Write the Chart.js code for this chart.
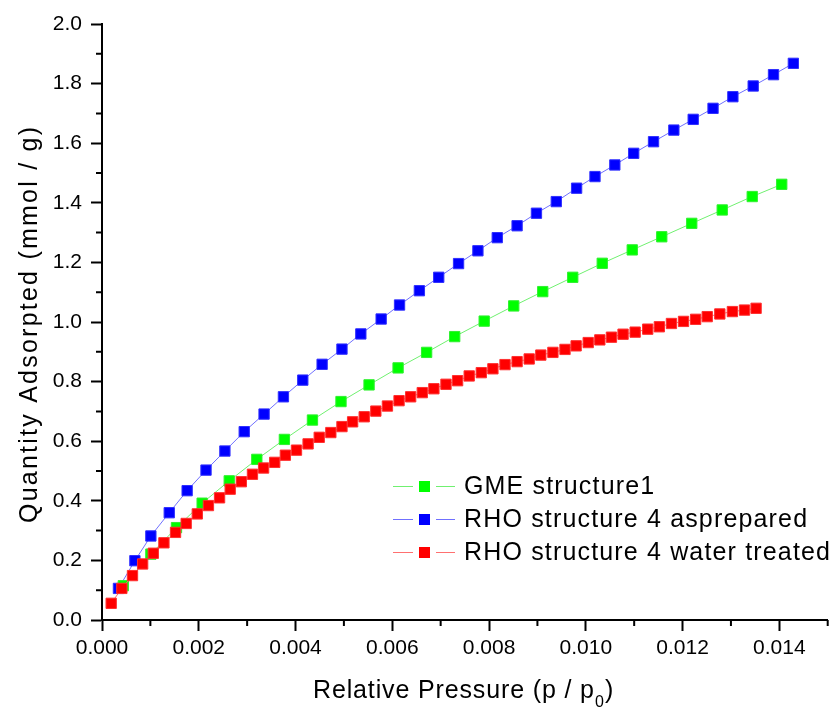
<!DOCTYPE html>
<html lang="en">
<head>
<meta charset="utf-8"/>
<title>Quantity Adsorpted vs Relative Pressure</title>
<script src="https://cdn.jsdelivr.net/npm/chart.js"></script>
<style>
  body { margin: 0; padding: 0; background: #fff; }
  canvas { display: block; }
</style>
</head>
<body>
<canvas id="isoChart" width="836" height="709"></canvas>
<script>
  // values
  const gmeX = [0.00044, 0.00101, 0.00154, 0.00207, 0.00263, 0.00320, 0.00377, 0.00435, 0.00494, 0.00552,
    0.00612, 0.00671, 0.00729, 0.00790, 0.00851, 0.00911, 0.00973, 0.01034, 0.01096, 0.01157,
    0.01219, 0.01282, 0.01344, 0.01405];
  const gmeY = [0.115, 0.221, 0.310, 0.392, 0.467, 0.539, 0.606, 0.671, 0.733, 0.789,
    0.846, 0.898, 0.951, 1.003, 1.054, 1.102, 1.150, 1.197, 1.242, 1.286,
    1.331, 1.376, 1.421, 1.462];

  const rhoPrepX = [0.00034, 0.00068, 0.00101, 0.00139, 0.00176, 0.00215, 0.00254, 0.00294, 0.00335, 0.00375,
    0.00415, 0.00455, 0.00496, 0.00535, 0.00577, 0.00615, 0.00656, 0.00696, 0.00737, 0.00777,
    0.00817, 0.00858, 0.00898, 0.00939, 0.00981, 0.01019, 0.01060, 0.01099, 0.01140, 0.01182,
    0.01222, 0.01263, 0.01304, 0.01346, 0.01388, 0.01429];
  const rhoPrepY = [0.106, 0.199, 0.282, 0.360, 0.434, 0.503, 0.567, 0.632, 0.691, 0.749,
    0.805, 0.858, 0.909, 0.960, 1.010, 1.057, 1.105, 1.150, 1.196, 1.239,
    1.283, 1.323, 1.365, 1.404, 1.449, 1.488, 1.527, 1.566, 1.605, 1.644,
    1.680, 1.717, 1.756, 1.792, 1.830, 1.868];

  const rhoWaterX = [0.00019, 0.00041, 0.00063, 0.00084, 0.00106, 0.00128, 0.00152, 0.00174, 0.00197, 0.00220,
    0.00243, 0.00265, 0.00288, 0.00311, 0.00334, 0.00357, 0.00379, 0.00402, 0.00426, 0.00449,
    0.00473, 0.00496, 0.00518, 0.00542, 0.00566, 0.00590, 0.00614, 0.00638, 0.00662, 0.00686,
    0.00711, 0.00735, 0.00759, 0.00784, 0.00808, 0.00833, 0.00858, 0.00883, 0.00907, 0.00932,
    0.00957, 0.00980, 0.01005, 0.01029, 0.01053, 0.01077, 0.01102, 0.01128, 0.01152, 0.01177,
    0.01202, 0.01227, 0.01251, 0.01277, 0.01303, 0.01328, 0.01352];
  const rhoWaterY = [0.056, 0.106, 0.149, 0.188, 0.224, 0.259, 0.294, 0.324, 0.356, 0.384,
    0.410, 0.439, 0.464, 0.489, 0.510, 0.529, 0.553, 0.570, 0.591, 0.613,
    0.629, 0.649, 0.665, 0.682, 0.701, 0.718, 0.736, 0.749, 0.763, 0.776,
    0.791, 0.803, 0.819, 0.830, 0.843, 0.857, 0.867, 0.876, 0.889, 0.898,
    0.908, 0.920, 0.931, 0.940, 0.949, 0.959, 0.966, 0.976, 0.984, 0.995,
    1.002, 1.009, 1.018, 1.027, 1.035, 1.040, 1.046];

  const xTicks = [0.000, 0.002, 0.004, 0.006, 0.008, 0.010, 0.012, 0.014];
  const xMinor = [0.001, 0.003, 0.005, 0.007, 0.009, 0.011, 0.013, 0.015];
  const yTicks = [0.0, 0.2, 0.4, 0.6, 0.8, 1.0, 1.2, 1.4, 1.6, 1.8, 2.0];
  const yMinor = [0.1, 0.3, 0.5, 0.7, 0.9, 1.1, 1.3, 1.5, 1.7, 1.9];

  const seriesNames = ['GME structure1', 'RHO structure 4 asprepared', 'RHO structure 4 water treated'];
  const xTitle = 'Relative Pressure (p / p';
  const yTitle = 'Quantity Adsorpted (mmol / g)';

  const FONT = "'Liberation Sans', Arial, sans-serif";

  function pts(xs, ys) {
    return xs.map((x, i) => ({ x: x, y: ys[i] }));
  }

  // the original text is set a bit loose, so draw it letter by letter
  function spacing(ctx, text, target) {
    return (target - ctx.measureText(text).width) / (text.length - 1);
  }
  function looseText(ctx, text, x, y, gap) {
    for (const ch of text) {
      ctx.fillText(ch, x, y);
      x += ctx.measureText(ch).width + gap;
    }
    return x;
  }

  // minor ticks, axis titles, legend
  const extras = {
    id: 'extras',
    afterDraw(chart) {
      const ctx = chart.ctx;
      const xs = chart.scales.x, ys = chart.scales.y;
      const area = chart.chartArea;
      ctx.save();
      ctx.strokeStyle = '#000';
      ctx.lineWidth = 2;
      ctx.beginPath();
      xMinor.forEach(v => {
        const px = xs.getPixelForValue(v);
        ctx.moveTo(px, area.bottom);
        ctx.lineTo(px, area.bottom + 6);
      });
      yMinor.forEach(v => {
        const py = ys.getPixelForValue(v);
        ctx.moveTo(area.left, py);
        ctx.lineTo(area.left - 6, py);
      });
      ctx.stroke();

      ctx.fillStyle = '#000';
      ctx.textAlign = 'left';

      // x axis title, p with subscript 0
      ctx.textBaseline = 'alphabetic';
      ctx.font = '25px ' + FONT;
      const gx = spacing(ctx, xTitle, 281);
      let tx = 313;
      tx = looseText(ctx, xTitle, tx, 698, gx);
      ctx.font = '16px ' + FONT;
      ctx.fillText('0', tx - gx + 1, 707);
      tx += ctx.measureText('0').width - gx + 2;
      ctx.font = '25px ' + FONT;
      ctx.fillText(')', tx, 698);

      // y axis title
      ctx.save();
      ctx.translate(37, 523);
      ctx.rotate(-Math.PI / 2);
      ctx.font = '25px ' + FONT;
      const gy = spacing(ctx, yTitle, 396);
      looseText(ctx, yTitle, 0, 0, gy);
      ctx.restore();

      // legend
      const rows = [486, 519, 552];
      ctx.font = '25px ' + FONT;
      const gl = spacing(ctx, seriesNames[2], 366);
      chart.data.datasets.forEach(ds => {
        const ry = rows[ds.legendRow];
        ctx.strokeStyle = ds.borderColor;
        ctx.lineWidth = 1;
        ctx.beginPath();
        ctx.moveTo(393, ry + 0.5);
        ctx.lineTo(413, ry + 0.5);
        ctx.moveTo(436, ry + 0.5);
        ctx.lineTo(455, ry + 0.5);
        ctx.stroke();
        ctx.fillStyle = ds.pointBackgroundColor;
        ctx.fillRect(419, ry - 5, 11, 11);
        ctx.fillStyle = '#000';
        ctx.textBaseline = 'middle';
        looseText(ctx, ds.label, 464, ry + 1, gl);
      });
      ctx.restore();
    }
  };

  const ctx = document.getElementById('isoChart').getContext('2d');
  new Chart(ctx, {
    type: 'scatter',
    data: {
      datasets: [
        {
          label: seriesNames[2],
          legendRow: 2,
          data: pts(rhoWaterX, rhoWaterY),
          borderColor: '#ff7070',
          pointBackgroundColor: '#ff0000',
          pointBorderColor: '#ff3030',
          order: 0
        },
        {
          label: seriesNames[0],
          legendRow: 0,
          data: pts(gmeX, gmeY),
          borderColor: '#70f070',
          pointBackgroundColor: '#00ff00',
          pointBorderColor: '#30f030',
          order: 1
        },
        {
          label: seriesNames[1],
          legendRow: 1,
          data: pts(rhoPrepX, rhoPrepY),
          borderColor: '#7070ff',
          pointBackgroundColor: '#0000ff',
          pointBorderColor: '#3030ff',
          order: 2
        }
      ].map(d => Object.assign({
        showLine: true,
        borderWidth: 1,
        pointStyle: 'rect',
        pointRadius: 7.3,
        pointBorderWidth: 1,
        clip: false
      }, d))
    },
    options: {
      responsive: false,
      animation: false,
      layout: { padding: { left: 0, right: 3, top: 24, bottom: 0 } },
      plugins: {
        legend: { display: false },
        tooltip: { enabled: false }
      },
      scales: {
        x: {
          type: 'linear',
          min: 0,
          max: 0.015,
          afterBuildTicks: s => { s.ticks = xTicks.map(v => ({ value: v })); },
          afterFit: s => { s.height = 89; },
          grid: { drawOnChartArea: false, drawTicks: true, tickLength: 11, tickWidth: 2, tickColor: '#000' },
          border: { color: '#000', width: 2 },
          ticks: {
            color: '#000',
            padding: 5,
            maxRotation: 0,
            font: { family: FONT, size: 21 },
            callback: v => v.toFixed(3)
          }
        },
        y: {
          type: 'linear',
          min: 0,
          max: 2.0,
          afterBuildTicks: s => { s.ticks = yTicks.map(v => ({ value: v })); },
          afterFit: s => { s.width = 102; },
          grid: { drawOnChartArea: false, drawTicks: true, tickLength: 11, tickWidth: 2, tickColor: '#000' },
          border: { color: '#000', width: 2 },
          ticks: {
            color: '#000',
            padding: 9,
            font: { family: FONT, size: 21 },
            callback: v => v.toFixed(1)
          }
        }
      }
    },
    plugins: [extras]
  });
</script>
</body>
</html>
